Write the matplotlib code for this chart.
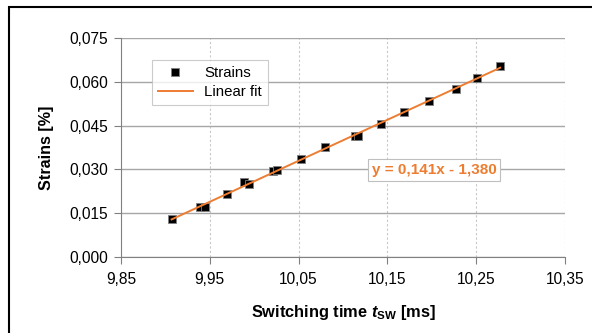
import numpy as np
import matplotlib
matplotlib.use("Agg")
import matplotlib.pyplot as plt
from matplotlib.patches import Rectangle
from matplotlib.ticker import FuncFormatter

plt.rcParams['font.family'] = ['Liberation Sans', 'DejaVu Sans']
plt.rcParams['mathtext.fontset'] = 'custom'
plt.rcParams['mathtext.rm'] = 'Liberation Sans:bold'
plt.rcParams['mathtext.it'] = 'Liberation Sans:bold:italic'
plt.rcParams['mathtext.bf'] = 'Liberation Sans:bold'

switching_time = [9.907, 9.939, 9.945, 9.969, 9.988, 9.994, 10.021, 10.026, 10.053,
                  10.080, 10.113, 10.117, 10.143, 10.169, 10.197, 10.227, 10.251, 10.277]
strains = [0.0130, 0.0172, 0.0170, 0.0215, 0.0256, 0.0251, 0.0295, 0.0297, 0.0336,
           0.0377, 0.0414, 0.0414, 0.0455, 0.0496, 0.0535, 0.0574, 0.0614, 0.0654]
x_ticks = [9.85, 9.95, 10.05, 10.15, 10.25, 10.35]
y_ticks = [0.000, 0.015, 0.030, 0.045, 0.060, 0.075]
equation = "y = 0,141x - 1,380"

orange = '#ED7D31'
fig = plt.figure(figsize=(5.92, 3.33), dpi=100)
ax = fig.add_axes([121/592, 1-257/333, 444/592, 219/333])

x = np.array(switching_time)
y = np.array(strains)
coef = np.polyfit(x, y, 1)
xf = np.array([x.min(), x.max()])
ax.plot(x, y, 's', color='black', markersize=6, markeredgecolor='#808080',
        markeredgewidth=0.6, label='Strains', zorder=3)
ax.plot(xf, np.polyval(coef, xf), '-', color=orange, lw=1.4, label='Linear fit', zorder=4)

ax.set_xlim(x_ticks[0], x_ticks[-1])
ax.set_ylim(y_ticks[0], y_ticks[-1])
ax.set_xticks(x_ticks)
ax.set_yticks(y_ticks)
ax.xaxis.set_major_formatter(FuncFormatter(lambda v, p: f"{v:.2f}".replace('.', ',')))
ax.yaxis.set_major_formatter(FuncFormatter(lambda v, p: f"{v:.3f}".replace('.', ',')))
ax.tick_params(axis='both', direction='out', length=5, color='#808080', labelsize=11.2, width=0.8)
ax.tick_params(axis='x', pad=6)
ax.tick_params(axis='y', pad=4)

ax.yaxis.grid(True, color='#A6A6A6', lw=1.0, linestyle='-')
ax.xaxis.grid(True, color='#C8C8C8', lw=0.8, linestyle=(0, (2, 2)))
ax.set_axisbelow(True)
for s in ['top', 'right']:
    ax.spines[s].set_visible(False)
for s in ['left', 'bottom']:
    ax.spines[s].set_color('#808080')
    ax.spines[s].set_linewidth(0.8)

ax.set_ylabel('Strains [%]', fontsize=11.6, fontweight='bold', labelpad=11)
ax.set_xlabel(r'Switching time $\mathit{t}_{\mathrm{SW}}$ [ms]', fontsize=11.8, fontweight='bold', labelpad=11)

leg = ax.legend(loc='upper left', bbox_to_anchor=((152-121)/444, (257-60)/219), frameon=True,
                fancybox=False, edgecolor='#BFBFBF', fontsize=10.8, handlelength=2.3,
                borderpad=0.4, labelspacing=0.35, handletextpad=0.8, borderaxespad=0)
leg.get_frame().set_linewidth(0.8)

ax.text((434-121)/888 + 9.85, (257-170)/2920, equation, color=orange, fontsize=11,
        fontweight='bold', ha='center', va='center',
        bbox=dict(boxstyle='square,pad=0.25', fc='white', ec='#BFBFBF', lw=0.8), zorder=5)

fig.patches.append(Rectangle((9/592, -0.1), 1.2, 1 - 7/333 + 0.1, transform=fig.transFigure,
                             fill=False, ec='black', lw=1.5))

fig.savefig('out.png', dpi=100)
